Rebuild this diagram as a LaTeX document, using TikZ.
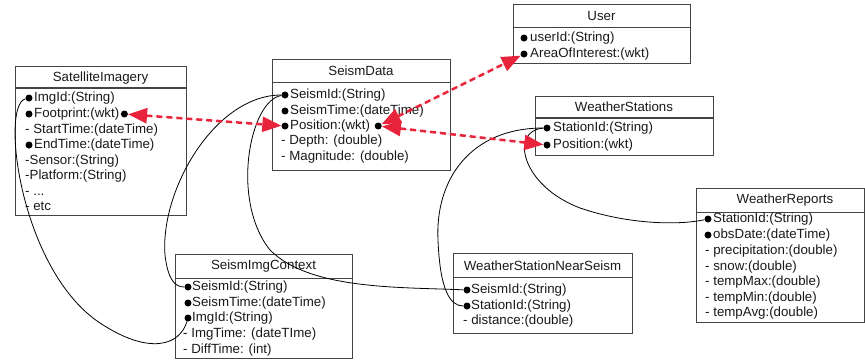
\documentclass[tikz,border=0pt]{standalone}
\usepackage{fontspec}
\setmainfont{Liberation Sans}
\usetikzlibrary{arrows.meta}
\definecolor{boxc}{HTML}{444444}
\definecolor{txtc}{HTML}{1A1A1A}
\definecolor{redc}{HTML}{E8243C}
\tikzset{
  umlbox/.style={draw=boxc, line width=1pt, anchor=north west, inner sep=0pt},
  sepline/.style={draw=boxc, line width=1pt},
  thicksep/.style={draw=boxc, line width=2pt},
  ttl/.style={font=\fontsize{13.3}{15}\selectfont, text=txtc, inner sep=0pt},
  fld/.style={font=\fontsize{13.3}{15}\selectfont, text=txtc, anchor=west, inner sep=0pt, text height=9.5pt, text depth=2.5pt},
  dot/.style={circle, fill=black, inner sep=0pt, minimum size=7pt},
  link/.style={draw=black, line width=0.8pt},
  refl/.style={draw=redc, fill=redc, line width=2.5pt, dash pattern=on 6pt off 4pt,
    {Triangle[length=19pt,width=15pt]}-{Triangle[length=19pt,width=15pt]}},
}
\begin{document}
\begin{tikzpicture}[x=1pt,y=-1pt]
\useasboundingbox (0,0) rectangle (865,360);
\fill[white] (0,0) rectangle (865,360);

% ---------- SatelliteImagery
\node[umlbox, minimum width=171pt, minimum height=149pt] (satbox) at (15,66) {};
\node[ttl] (sattitle) at (100.5,78) {SatelliteImagery};
\draw[thicksep] (15,88) -- (186,88);
\node[dot] (satimgdot) at (29,98) {};
\node[fld] (satimg) at (34,98) {ImgId:(String)};
\node[dot] (satfpdot) at (29,114) {};
\node[fld] (satfp) at (34,114) {Footprint:(wkt)};
\node[dot] (satfpend) at ([xshift=5pt]satfp.east) {};
\node[fld] (satst) at (25,130) {- StartTime:(dateTime)};
\node[dot] (satetdot) at (29,145) {};
\node[fld] (satet) at (34,145) {EndTime:(dateTime)};
\node[fld] (satsen) at (25,161) {-Sensor:(String)};
\node[fld] (satpl) at (25,176) {-Platform:(String)};
\node[fld] (satdots) at (25,192) {- ...};
\node[fld] (satetc) at (25,207) {- etc};

% ---------- SeismData
\node[umlbox, minimum width=178pt, minimum height=111pt] (sdbox) at (272,59) {};
\node[ttl] (sdtitle) at (361,71) {SeismData};
\draw[sepline] (272,82) -- (450,82);
\node[dot] (sdiddot) at (285,95) {};
\node[fld] (sdid) at (290,95) {SeismId:(String)};
\node[dot] (sdtimedot) at (285,111) {};
\node[fld] (sdtime) at (290,111) {SeismTime:(dateTime)};
\node[dot] (sdposdot) at (285,126) {};
\node[fld] (sdpos) at (290,126) {Position:(wkt)};
\node[dot] (sdposend) at ([xshift=8pt]sdpos.east) {};
\node[fld] (sddepth) at (281,141) {- Depth: (double)};
\node[fld] (sdmag) at (281,157) {- Magnitude: (double)};

% ---------- User
\node[umlbox, minimum width=177pt, minimum height=59pt] (userbox) at (513,4) {};
\node[ttl] (usertitle) at (601.5,16) {User};
\draw[sepline] (513,27) -- (690,27);
\node[dot] (useriddot) at (524,38) {};
\node[fld] (userid) at (530,38) {userId:(String)};
\node[dot] (useraoidot) at (524,54) {};
\node[fld] (useraoi) at (530,54) {AreaOfInterest:(wkt)};

% ---------- WeatherStations
\node[umlbox, minimum width=178pt, minimum height=59pt] (wsbox) at (535,96) {};
\node[ttl] (wstitle) at (624,107) {WeatherStations};
\draw[thicksep] (535,118) -- (713,118);
\node[dot] (wsiddot) at (547,128) {};
\node[fld] (wsid) at (553,128) {StationId:(String)};
\node[dot] (wsposdot) at (547,145) {};
\node[fld] (wspos) at (553,145) {Position:(wkt)};

% ---------- WeatherReports
\node[umlbox, minimum width=168pt, minimum height=134pt] (wrbox) at (696,188) {};
\node[ttl] (wrtitle) at (785,200) {WeatherReports};
\draw[sepline] (696,212) -- (864,212);
\node[dot] (wriddot) at (708,219) {};
\node[fld] (wrid) at (713,219) {StationId:(String)};
\node[dot] (wrobsdot) at (708,235) {};
\node[fld] (wrobs) at (713,235) {obsDate:(dateTime)};
\node[fld] (wrprec) at (705,251) {- precipitation:(double)};
\node[fld] (wrsnow) at (705,267) {- snow:(double)};
\node[fld] (wrtmax) at (705,282) {- tempMax:(double)};
\node[fld] (wrtmin) at (705,298) {- tempMin:(double)};
\node[fld] (wrtavg) at (705,313) {- tempAvg:(double)};

% ---------- SeismImgContext
\node[umlbox, minimum width=177pt, minimum height=104pt] (sicbox) at (175,254) {};
\node[ttl] (sictitle) at (263.5,266) {SeismImgContext};
\draw[sepline] (175,278) -- (352,278);
\node[dot] (siciddot) at (188,287) {};
\node[fld] (sicid) at (192,287) {SeismId:(String)};
\node[dot] (sictimedot) at (188,303) {};
\node[fld] (sictime) at (192,303) {SeismTime:(dateTime)};
\node[dot] (sicimgdot) at (188,318) {};
\node[fld] (sicimg) at (192,318) {ImgId:(String)};
\node[fld] (sicimgt) at (183,334) {- ImgTime: (dateTIme)};
\node[fld] (sicdiff) at (183,350) {- DiffTime: (int)};

% ---------- WeatherStationNearSeism
\node[umlbox, minimum width=179pt, minimum height=80pt] (wnbox) at (453,253) {};
\node[ttl] (wntitle) at (542.5,266) {WeatherStationNearSeism};
\draw[sepline] (453,277) -- (632,277);
\node[dot] (wnsdot) at (467,290) {};
\node[fld] (wns) at (471,290) {SeismId:(String)};
\node[dot] (wnstdot) at (467,306) {};
\node[fld] (wnst) at (471,306) {StationId:(String)};
\node[fld] (wndist) at (463,321) {- distance:(double)};

% ---------- black links
\draw[link] (satimgdot) .. controls (0,105) and (20,270) .. (100,323)
                        .. controls (150,356) and (180,345) .. (sicimgdot);
\draw[link] (sdiddot) .. controls (215,95) and (160,190) .. (165,255)
                      .. controls (168,280) and (175,287) .. (siciddot);
\draw[link] (sdiddot) .. controls (250,100) and (230,200) .. (270,250)
                      .. controls (310,290) and (400,287) .. (wnsdot);
\draw[link] (wsiddot) .. controls (470,128) and (435,180) .. (438,240)
                      .. controls (440,290) and (450,306) .. (wnstdot);
\draw[link] (wsiddot) .. controls (510,130) and (520,185) .. (580,208)
                      .. controls (630,225) and (680,225) .. (wriddot);

% ---------- red references
\draw[refl] (satfpend) -- (sdposdot);
\draw[refl] (sdposend) -- (useraoidot);
\draw[refl] (sdposend) -- (wsposdot);
\end{tikzpicture}
\end{document}
